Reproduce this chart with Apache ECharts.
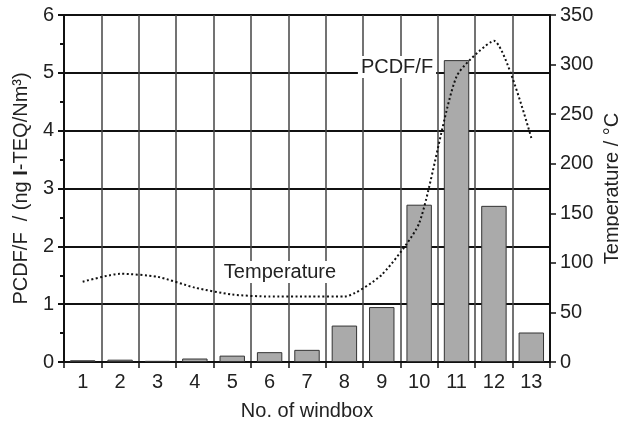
<!DOCTYPE html>
<html>
<head>
<meta charset="utf-8">
<script src="https://cdn.jsdelivr.net/npm/echarts@6/dist/echarts.min.js"></script>
<style>html,body{margin:0;padding:0;background:#fff}#c{width:619px;height:425px}</style>
</head>
<body>
<div id="c"></div>
<script>
const categories = ['1','2','3','4','5','6','7','8','9','10','11','12','13'];
const pcdfValues = [0.03, 0.04, 0.02, 0.06, 0.11, 0.17, 0.21, 0.63, 0.95, 2.72, 5.22, 2.7, 0.51];
const temperatureValues = [81, 89, 86, 75, 68, 66, 66, 66, 88, 140, 288, 324, 226];
const leftTicks = { min: 0, max: 6, interval: 1 };
const rightTicks = { min: 0, max: 350, interval: 50 };

const FONT = '"Liberation Sans", Arial, Helvetica, sans-serif';
const chart = echarts.init(document.getElementById('c'), null, { renderer: 'canvas' });
chart.setOption({
  animation: false,
  backgroundColor: '#fff',
  textStyle: { fontFamily: FONT, color: '#222' },
  grid: { left: 64, right: 69, top: 15, bottom: 63, containLabel: false, outerBoundsMode: 'none' },
  xAxis: {
    type: 'category',
    data: categories,
    boundaryGap: true,
    name: 'No. of windbox',
    nameLocation: 'middle',
    nameGap: 39,
    nameTextStyle: { fontSize: 20, color: '#222', fontFamily: FONT },
    axisLine: { lineStyle: { color: '#111', width: 2 } },
    axisTick: { show: true, length: 6, lineStyle: { color: '#111', width: 1.5 } },
    axisLabel: { fontSize: 20, color: '#222', margin: 10, fontFamily: FONT },
    splitLine: { show: true, lineStyle: { color: '#444', width: 1.5 } }
  },
  yAxis: [
    {
      type: 'value',
      min: leftTicks.min, max: leftTicks.max, interval: leftTicks.interval,
      name: '{a|PCDF/F  / (ng }{b|I}{a|-TEQ/Nm³)}',
      nameLocation: 'middle',
      nameGap: 33,
      nameRotate: 90,
      nameTextStyle: {
        fontSize: 20, color: '#222', fontFamily: FONT,
        rich: {
          a: { fontSize: 20, color: '#222', fontFamily: FONT },
          b: { fontSize: 20, color: '#222', fontWeight: 'bold', fontFamily: FONT }
        }
      },
      axisLine: { show: true, lineStyle: { color: '#111', width: 2 } },
      axisTick: { show: true, length: 6, lineStyle: { color: '#111', width: 2 } },
      minorTick: { show: true, splitNumber: 2, length: 4, lineStyle: { color: '#111', width: 2 } },
      axisLabel: { fontSize: 20, color: '#222', margin: 10, fontFamily: FONT },
      splitLine: { show: true, lineStyle: { color: '#111', width: 2 } }
    },
    {
      type: 'value',
      position: 'right',
      min: rightTicks.min, max: rightTicks.max, interval: rightTicks.interval,
      name: 'Temperature / °C',
      nameLocation: 'middle',
      nameGap: 52,
      nameMoveOverlap: false,
      nameRotate: 90,
      nameTextStyle: { fontSize: 20, color: '#222', fontFamily: FONT },
      axisLine: { show: true, lineStyle: { color: '#111', width: 2 } },
      axisTick: { show: true, length: 6, lineStyle: { color: '#111', width: 1.5 } },
      axisLabel: { fontSize: 20, color: '#222', margin: 10, fontFamily: FONT },
      splitLine: { show: false }
    }
  ],
  series: [
    {
      name: 'PCDF/F',
      type: 'bar',
      yAxisIndex: 0,
      data: pcdfValues,
      barCategoryGap: '32%',
      itemStyle: { color: '#aaaaaa', borderColor: '#333', borderWidth: 1 }
    },
    {
      name: 'Temperature',
      type: 'line',
      yAxisIndex: 1,
      data: temperatureValues,
      smooth: 0.2,
      showSymbol: false,
      symbol: 'none',
      lineStyle: { color: '#111', width: 2, type: [2, 2.5] },
      z: 5
    }
  ],
  graphic: [
    {
      type: 'text', x: 397, y: 67, z: 10,
      style: { text: 'PCDF/F', fontSize: 20, fontFamily: FONT, fill: '#222',
        align: 'center', verticalAlign: 'middle', backgroundColor: '#fff', padding: [1, 3] }
    },
    {
      type: 'text', x: 280, y: 272, z: 10,
      style: { text: 'Temperature', fontSize: 20, fontFamily: FONT, fill: '#222',
        align: 'center', verticalAlign: 'middle', backgroundColor: '#fff', padding: [1, 3] }
    }
  ]
});
</script>
</body>
</html>
